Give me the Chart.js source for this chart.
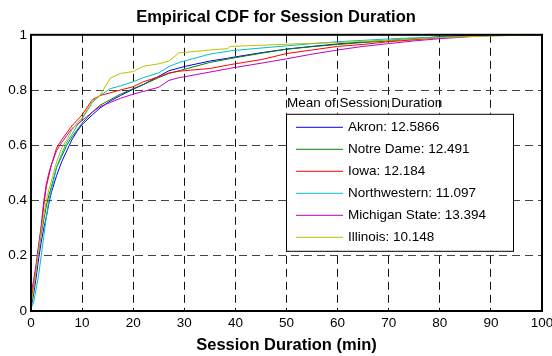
<!DOCTYPE html>
<html>
<head>
<meta charset="utf-8">
<script src="https://cdn.jsdelivr.net/npm/chart.js@4"></script>
<style>
  html, body { margin: 0; padding: 0; background: #fff; }
  #wrap { width: 552px; height: 356px; }
</style>
</head>
<body>
<div id="wrap"><canvas id="myChart" width="552" height="356"></canvas></div>
<script>
// session duration grid (min) and the CDF read for each school
let minutes = [0, 0.5, 1, 1.5, 2, 2.5, 3, 3.5, 4, 5, 6, 7, 8, 9, 10, 12, 13.5, 15.5, 17.5, 20,
  22, 25, 27, 29, 30, 35, 38.5, 39, 45, 50, 55, 60, 65, 70, 75, 80, 85, 90, 95, 100];

let akron = [0.01, 0.06, 0.12, 0.19, 0.25, 0.30, 0.34, 0.39, 0.43, 0.49, 0.54, 0.58, 0.62, 0.65, 0.675, 0.71, 0.735, 0.76, 0.78, 0.803,
  0.82, 0.85, 0.87, 0.88, 0.885, 0.905, 0.915, 0.917, 0.935, 0.948, 0.958, 0.967, 0.974, 0.98, 0.986, 0.993, 0.998, 1, 1, 1];
let notreDame = [0.02, 0.08, 0.15, 0.22, 0.28, 0.33, 0.38, 0.42, 0.45, 0.52, 0.56, 0.60, 0.63, 0.655, 0.68, 0.72, 0.745, 0.765, 0.785, 0.805,
  0.82, 0.845, 0.86, 0.87, 0.875, 0.90, 0.912, 0.914, 0.933, 0.948, 0.957, 0.965, 0.972, 0.978, 0.984, 0.99, 0.994, 0.997, 1, 1];
let iowa = [0.04, 0.09, 0.16, 0.23, 0.30, 0.38, 0.45, 0.49, 0.53, 0.59, 0.62, 0.645, 0.67, 0.69, 0.71, 0.765, 0.78, 0.79, 0.80, 0.812,
  0.83, 0.848, 0.862, 0.868, 0.87, 0.878, 0.89, 0.892, 0.91, 0.932, 0.945, 0.958, 0.965, 0.975, 0.982, 0.99, 0.995, 0.998, 1, 1];
let northwestern = [0.01, 0.03, 0.08, 0.13, 0.20, 0.27, 0.34, 0.40, 0.44, 0.52, 0.57, 0.61, 0.64, 0.67, 0.695, 0.755, 0.78, 0.805, 0.815, 0.83,
  0.845, 0.862, 0.885, 0.90, 0.905, 0.93, 0.94, 0.942, 0.952, 0.96, 0.968, 0.975, 0.98, 0.985, 0.989, 0.992, 0.994, 0.996, 0.998, 1];
let michiganState = [0.06, 0.11, 0.17, 0.24, 0.31, 0.40, 0.46, 0.50, 0.53, 0.58, 0.61, 0.635, 0.66, 0.675, 0.69, 0.72, 0.74, 0.755, 0.77, 0.785,
  0.795, 0.81, 0.835, 0.845, 0.848, 0.865, 0.877, 0.879, 0.897, 0.913, 0.93, 0.945, 0.958, 0.968, 0.978, 0.986, 0.992, 0.998, 1, 1];
let illinois = [0.02, 0.08, 0.15, 0.22, 0.29, 0.35, 0.40, 0.44, 0.47, 0.54, 0.59, 0.62, 0.655, 0.68, 0.70, 0.76, 0.78, 0.843, 0.86, 0.867,
  0.886, 0.895, 0.905, 0.935, 0.936, 0.945, 0.95, 0.958, 0.962, 0.966, 0.969, 0.972, 0.976, 0.98, 0.985, 0.99, 0.993, 0.996, 0.998, 1];

let schools = ['Akron', 'Notre Dame', 'Iowa', 'Northwestern', 'Michigan State', 'Illinois'];
let means = ['12.5866', '12.491', '12.184', '11.097', '13.394', '10.148'];
let series = [akron, notreDame, iowa, northwestern, michiganState, illinois];
let colors = ['#0000ff', '#008000', '#ff0000', '#00bfbf', '#bf00bf', '#bfbf00'];

let xTicks = [0, 10, 20, 30, 40, 50, 60, 70, 80, 90, 100];
let yTicks = [0, 0.2, 0.4, 0.6, 0.8, 1];

let FONT = 'Liberation Sans, Arial, Helvetica, sans-serif';

let datasets = series.map(function (vals, i) {
    return {
        label: schools[i] + ': ' + means[i],
        data: vals.map(function (v, k) { return { x: minutes[k], y: v }; }),
        borderColor: colors[i],
        backgroundColor: colors[i],
        borderWidth: 1,
        pointRadius: 0,
        tension: 0,
        fill: false,
        order: series.length - i
    };
});

// box around the axes plus the in-axes legend, MATLAB style
let boxAndLegend = {
    id: 'boxAndLegend',
    afterDatasetsDraw: function (chart) {
        let ctx = chart.ctx;
        let a = chart.chartArea;
        ctx.save();
        ctx.strokeStyle = '#000';
        ctx.lineWidth = 2;
        ctx.strokeRect(a.left, a.top, a.right - a.left, a.bottom - a.top);

        let lx = a.left + 255, ly = a.top + 79, lw = 227, lh = 137;
        ctx.font = '13.5px ' + FONT;
        ctx.textBaseline = 'middle';
        ctx.fillStyle = '#000';
        ctx.textAlign = 'left';
        ctx.fillText('Mean of Session Duration', lx + 1, ly - 11);

        ctx.fillStyle = '#fff';
        ctx.fillRect(lx, ly, lw, lh);
        ctx.lineWidth = 1;
        ctx.strokeStyle = '#000';
        ctx.strokeRect(lx + 0.5, ly + 0.5, lw, lh);

        chart.data.datasets.forEach(function (ds, i) {
            let y = ly + 13 + i * 22;
            ctx.strokeStyle = ds.borderColor;
            ctx.beginPath();
            ctx.moveTo(lx + 10, y + 0.5);
            ctx.lineTo(lx + 57, y + 0.5);
            ctx.stroke();
            ctx.fillStyle = '#000';
            ctx.fillText(ds.label, lx + 62, y);
        });
        ctx.restore();
    }
};

let myChart = document.getElementById('myChart').getContext('2d');
let chart = new Chart(myChart, {
    type: 'line',
    data: { datasets: datasets },
    options: {
        responsive: false,
        animation: false,
        layout: { padding: { left: 0, right: 0, top: 0, bottom: 0 } },
        plugins: {
            legend: { display: false },
            tooltip: { enabled: false },
            title: {
                display: true,
                text: 'Empirical CDF for Session Duration',
                color: '#000',
                font: { family: FONT, size: 16.5, weight: 'bold' },
                padding: { top: 7.5, bottom: 7.5 }
            }
        },
        scales: {
            x: {
                type: 'linear',
                min: 0,
                max: 100,
                afterBuildTicks: function (s) { s.ticks = xTicks.map(function (v) { return { value: v }; }); },
                afterFit: function (s) { s.height = 45; s.paddingRight = 10; s.paddingLeft = 0; },
                ticks: { color: '#000', font: { family: FONT, size: 13.5 }, padding: 4, maxRotation: 0 },
                grid: { color: '#111', lineWidth: 1, drawTicks: false },
                border: { display: false, dash: [8, 5] },
                title: {
                    display: true,
                    text: 'Session Duration (min)',
                    color: '#000',
                    font: { family: FONT, size: 16.5, weight: 'bold' },
                    padding: { top: 0, bottom: 1 }
                }
            },
            y: {
                type: 'linear',
                min: 0,
                max: 1,
                afterBuildTicks: function (s) { s.ticks = yTicks.map(function (v) { return { value: v }; }); },
                afterFit: function (s) { s.width = 31; },
                ticks: {
                    color: '#000',
                    font: { family: FONT, size: 13.5 },
                    padding: 4,
                    callback: function (v) { return String(Number(v.toFixed(1))); }
                },
                grid: { color: '#444', lineWidth: 1, drawTicks: false },
                border: { display: false, dash: [8, 5] }
            }
        }
    },
    plugins: [boxAndLegend]
});
</script>
</body>
</html>
